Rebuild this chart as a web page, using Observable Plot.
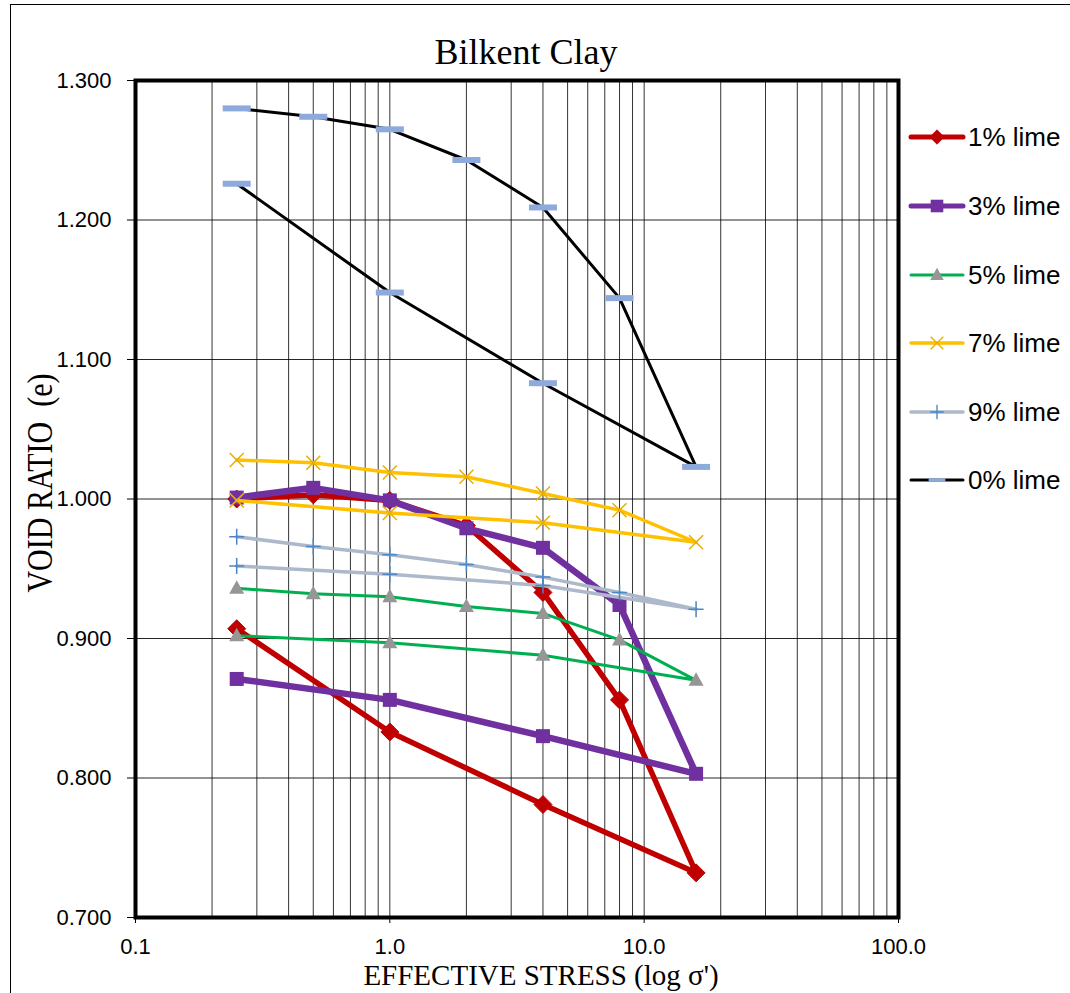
<!DOCTYPE html>
<html>
<head>
<meta charset="utf-8">
<script src="https://cdn.jsdelivr.net/npm/d3@7"></script>
<script src="https://cdn.jsdelivr.net/npm/@observablehq/plot@0.6"></script>
<style>
  html, body { margin: 0; padding: 0; background: #fff; overflow: hidden; }
  #wrap { position: relative; width: 1070px; height: 993px; overflow: hidden; }
  #border { position: absolute; left: 10px; top: 4px; width: 1200px; height: 1200px;
            border-left: 1.5px solid #000; border-top: 1.5px solid #000; }
  #chart { position: absolute; left: 0; top: 0; }
  .title { position: absolute; font-family: "Times New Roman", "Liberation Serif", serif; color: #000; white-space: nowrap; }
  #legend { position: absolute; left: 908px; top: 0; font-family: Arial, "Liberation Sans", sans-serif; font-size: 26px; }
  .entry { position: absolute; left: 0; height: 30px; display: flex; align-items: center; white-space: nowrap; }
  .entry svg { display: block; }
  .entry span { margin-left: 2px; }
</style>
</head>
<body>
<div id="wrap">
  <div id="border"></div>
  <div id="chart"></div>
  <div class="title" id="t1" style="left:526px; top:31px; font-size:36px; transform:translateX(-50%);">Bilkent Clay</div>
  <div class="title" id="t2" style="left:541px; top:962px; font-size:29px; line-height:26px; transform:translateX(-50%);">EFFECTIVE STRESS (log σ')</div>
  <div class="title" id="t3" style="left:40px; top:483px; font-size:30px; line-height:30px; transform:translate(-50%,-50%) rotate(-90deg) scaleY(1.2);">VOID RATIO&nbsp;&nbsp;(e)</div>
  <div id="legend"></div>
</div>
<script>
// ---- data ----
const stress = [0.25, 0.5, 1, 2, 4, 8, 16, 4, 1, 0.25];
const lime1 = [1.000, 1.003, 0.999, 0.981, 0.933, 0.856, 0.732, 0.781, 0.833, 0.907];
const lime3 = [1.001, 1.008, 0.999, 0.979, 0.965, 0.924, 0.803, 0.830, 0.856, 0.871];
const lime5 = [0.936, 0.932, 0.930, 0.923, 0.918, 0.899, 0.870, 0.888, 0.897, 0.902];
const lime7 = [1.028, 1.026, 1.019, 1.016, 1.004, 0.992, 0.969, 0.983, 0.990, 0.999];
const lime9 = [0.973, 0.966, 0.960, 0.953, 0.944, 0.933, 0.921, 0.938, 0.946, 0.952];
const lime0 = [1.280, 1.274, 1.265, 1.243, 1.209, 1.144, 1.023, 1.083, 1.148, 1.226];
const seriesNames = ["1% lime", "3% lime", "5% lime", "7% lime", "9% lime", "0% lime"];
const xTicks = [0.1, 1, 10, 100];
const yTicks = [0.7, 0.8, 0.9, 1.0, 1.1, 1.2, 1.3];

// ---- symbols ----
const sym = {
  diamond: {draw(c) { const s = 9; c.moveTo(0, -s); c.lineTo(s, 0); c.lineTo(0, s); c.lineTo(-s, 0); c.closePath(); }},
  square: {draw(c) { c.rect(-7, -7, 14, 14); }},
  triangle: {draw(c) { c.moveTo(0, -8); c.lineTo(7.5, 5.5); c.lineTo(-7.5, 5.5); c.closePath(); }},
  times: {draw(c) { c.moveTo(-7, -7); c.lineTo(7, 7); c.moveTo(7, -7); c.lineTo(-7, 7); }},
  plus: {draw(c) { c.moveTo(-7.5, 0); c.lineTo(7.5, 0); c.moveTo(0, -8); c.lineTo(0, 8); }},
  dash: {draw(c) { c.rect(-14, -3, 28, 6); }}
};

const styles = [
  {values: lime1, line: "#C00000", lw: 5.5, symbol: sym.diamond,  fill: "#C00000", mstroke: "#C00000", msw: 1},
  {values: lime3, line: "#7030A0", lw: 6.5, symbol: sym.square,   fill: "#7030A0", mstroke: "none", msw: 0},
  {values: lime5, line: "#00B050", lw: 3,   symbol: sym.triangle, fill: "#969696", mstroke: "none", msw: 0},
  {values: lime7, line: "#FFC000", lw: 3.5, symbol: sym.times,    fill: "none", mstroke: "#E8AE00", msw: 1.5},
  {values: lime9, line: "#ADB9CA", lw: 3.5, symbol: sym.plus,     fill: "none", mstroke: "#4A86C8", msw: 1.5},
  {values: lime0, line: "#000000", lw: 3,   symbol: sym.dash,     fill: "#8EA9DB", mstroke: "none", msw: 0}
];

const data = seriesNames.map((name, i) => stress.map((s, j) => ({series: name, s, e: styles[i].values[j]})));

// grid values
const xGrid = [];
for (const p of [0.1, 1, 10]) for (let k = 1; k <= 9; k++) xGrid.push(+(p * k).toPrecision(3));
xGrid.push(100);
const yGrid = yTicks;

const marks = [
  Plot.ruleX(xGrid, {stroke: "#000", strokeWidth: 1, strokeOpacity: 0.8}),
  Plot.ruleY(yGrid, {stroke: "#000", strokeWidth: 1, strokeOpacity: 0.85})
];
data.forEach((d, i) => {
  const st = styles[i];
  marks.push(Plot.line(d, {x: "s", y: "e", stroke: st.line, strokeWidth: st.lw, strokeLinejoin: "round"}));
  marks.push(Plot.dot(d, {x: "s", y: "e", symbol: st.symbol, r: 7, fill: st.fill, stroke: st.mstroke, strokeWidth: st.msw}));
});
marks.push(Plot.frame({stroke: "#000", strokeWidth: 4}));
marks.push(Plot.axisY({ticks: yTicks, tickFormat: d3.format(".3f"), tickSize: 8, tickPadding: 16, fontSize: 22, label: null}));
marks.push(Plot.axisX({ticks: xTicks, tickFormat: d => d.toFixed(1), tickSize: 6, tickPadding: 15, fontSize: 22, label: null}));

const chart = Plot.plot({
  width: 1070,
  height: 993,
  marginLeft: 135,
  marginRight: 172,
  marginTop: 80,
  marginBottom: 76,
  style: {fontFamily: "Arial, 'Liberation Sans', sans-serif", color: "#000", background: "transparent", overflow: "visible"},
  x: {type: "log", domain: [0.1, 100]},
  y: {domain: [0.7, 1.3]},
  marks
});
document.getElementById("chart").appendChild(chart);

// ---- legend ----
const legend = document.getElementById("legend");
const centers = [137, 206, 275, 343, 412, 480];
seriesNames.forEach((name, i) => {
  const st = styles[i];
  const entry = document.createElement("div");
  entry.className = "entry";
  entry.style.top = (centers[i] - 15) + "px";
  const svg = d3.create("svg").attr("width", 58).attr("height", 30);
  svg.append("line").attr("x1", 3).attr("x2", 55).attr("y1", 15).attr("y2", 15)
    .attr("stroke", st.line).attr("stroke-width", Math.min(st.lw, 5)).attr("stroke-linecap", "round");
  const p = d3.path();
  st.symbol.draw(p);
  const scale = st.symbol === sym.dash ? 0.6 : (st.symbol === sym.diamond ? 0.8 : 0.9);
  svg.append("path").attr("d", p.toString())
    .attr("transform", `translate(29,15) scale(${scale})`)
    .attr("fill", st.fill).attr("stroke", st.mstroke).attr("stroke-width", st.msw);
  entry.appendChild(svg.node());
  const span = document.createElement("span");
  span.textContent = name;
  entry.appendChild(span);
  legend.appendChild(entry);
});
</script>
</body>
</html>
